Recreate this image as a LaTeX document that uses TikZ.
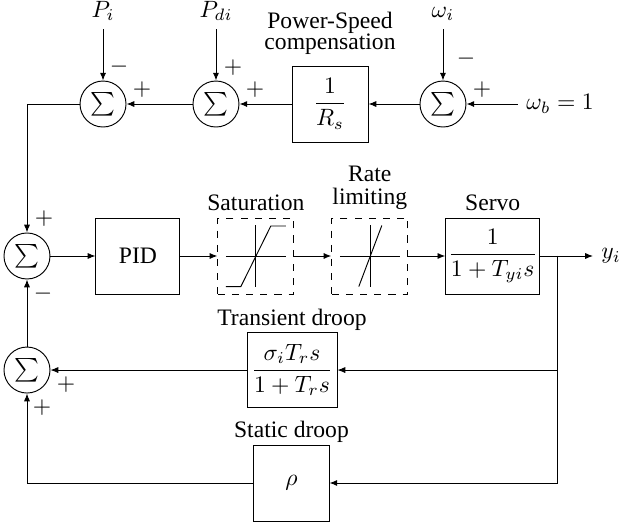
\documentclass[tikz,border=0pt]{standalone}
\usepackage[no-math]{fontspec}
\setmainfont{Liberation Serif}
\usepackage{amsmath}
\usetikzlibrary{arrows.meta, positioning}

\begin{document}
\begin{tikzpicture}[
    node distance=0.551cm,
    box/.style={rectangle, draw, minimum width=1.132cm, minimum height=1.132cm, inner sep=1pt},
    sumnode/.style={circle, draw, minimum size=0.685cm, inner sep=0pt},
    sign/.style={inner sep=0pt},
    title/.style={inner sep=0pt, align=center},
    arrow/.style={-{Latex[length=3.3pt,width=2.6pt]}}
  ]
    \useasboundingbox (-0.402,-4.005) rectangle (8.815,3.812);
    % forward path
    \node[sumnode] (sum4) at (0,0) {$\sum$};
    \node[box, minimum width=1.25cm, right=0.67cm of sum4] (pid) {PID};
    \node[box, dashed, right=of pid] (sat) {};
    \node[box, dashed, right=of sat] (rate) {};
    \node[box, minimum width=1.355cm, right=of rate] (servo) {$\dfrac{1}{1+T_{yi}s}$};
    \coordinate (brk) at (7.892,0);
    \node[anchor=west] (yi) at (8.428,0) {$y_i$};
    % speed reference row
    \node[sumnode] (sum1) at (1.132,2.263) {$\sum$};
    \node[sumnode] (sum2) at (2.814,2.263) {$\sum$};
    \node[box] (rs) at (4.512,2.263) {$\dfrac{1}{R_s}$};
    \node[sumnode] (sum3) at (6.194,2.263) {$\sum$};
    \node[anchor=west] (wb) at (7.311,2.263) {$\omega_b=1$};
    \node[anchor=south] (pi) at (1.132,3.38) {$P_i$};
    \node[anchor=south] (pdi) at (2.814,3.38) {$P_{di}$};
    \node[anchor=south] (wi) at (6.194,3.38) {$\omega_i$};
    % droop feedback
    \node[sumnode] (sum5) at (0,-1.698) {$\sum$};
    \node[box, minimum width=1.34cm, minimum height=1.117cm] (trans) at (3.946,-1.698) {$\dfrac{\sigma_i T_r s}{1+T_r s}$};
    \node[box, minimum width=1.117cm] (stat) at (3.938,-3.380) {$\rho$};
    % block titles
    \node[title, above=4.5pt of rs] (lblpower) {Power-Speed\\[-3pt]compensation};
    \node[title, above=2.5pt of sat] (lblsat) {Saturation};
    \node[title, above=3pt of rate] (lblrate) {Rate\\[-2pt]limiting};
    \node[title, above=2.5pt of servo] (lblservo) {Servo};
    \node[title, above=0.5pt of trans] (lbltrans) {Transient droop};
    \node[title, above=0.5pt of stat] (lblstat) {Static droop};
    % signs
    \node[sign] (sg1a) at ([shift={(0.238,0.551)}]sum1.center) {$-$};
    \node[sign] (sg1b) at ([shift={(0.581,0.208)}]sum1.center) {$+$};
    \node[sign] (sg2a) at ([shift={(0.253,0.536)}]sum2.center) {$+$};
    \node[sign] (sg2b) at ([shift={(0.581,0.208)}]sum2.center) {$+$};
    \node[sign] (sg3a) at ([shift={(0.342,0.670)}]sum3.center) {$-$};
    \node[sign] (sg3b) at ([shift={(0.581,0.208)}]sum3.center) {$+$};
    \node[sign] (sg4a) at ([shift={(0.253,0.551)}]sum4.center) {$+$};
    \node[sign] (sg4b) at ([shift={(0.238,-0.566)}]sum4.center) {$-$};
    \node[sign] (sg5a) at ([shift={(0.581,-0.223)}]sum5.center) {$+$};
    \node[sign] (sg5b) at ([shift={(0.223,-0.566)}]sum5.center) {$+$};
    % nonlinear characteristics
    \begin{scope}[shift={(sat.center)}]
      \draw (-0.447,0) -- (0.447,0);
      \draw (0,-0.455) -- (0,0.455);
      \draw (-0.447,-0.455) -- (-0.223,-0.455) -- (0.223,0.447) -- (0.447,0.447);
    \end{scope}
    \begin{scope}[shift={(rate.center)}]
      \draw (-0.447,0) -- (0.447,0);
      \draw (0.015,-0.455) -- (0.015,0.455);
      \draw (-0.164,-0.455) -- (0.179,0.455);
    \end{scope}
    % connectors
    \draw[arrow] (wb) -- (sum3);
    \draw[arrow] (wi) -- (sum3);
    \draw[arrow] (sum3) -- (rs);
    \draw[arrow] (rs) -- (sum2);
    \draw[arrow] (pdi) -- (sum2);
    \draw[arrow] (sum2) -- (sum1);
    \draw[arrow] (pi) -- (sum1);
    \draw[arrow] (sum1) -| (sum4);
    \draw[arrow] (sum4) -- (pid);
    \draw[arrow] (pid) -- (sat);
    \draw[arrow] (sat) -- (rate);
    \draw[arrow] (rate) -- (servo);
    \draw[arrow] (servo) -- (yi);
    \draw[arrow] (brk) |- (trans);
    \draw[arrow] (brk) |- (stat);
    \draw[arrow] (trans) -- (sum5);
    \draw[arrow] (stat) -| (sum5);
    \draw[arrow] (sum5) -- (sum4);
  \end{tikzpicture}
\end{document}
